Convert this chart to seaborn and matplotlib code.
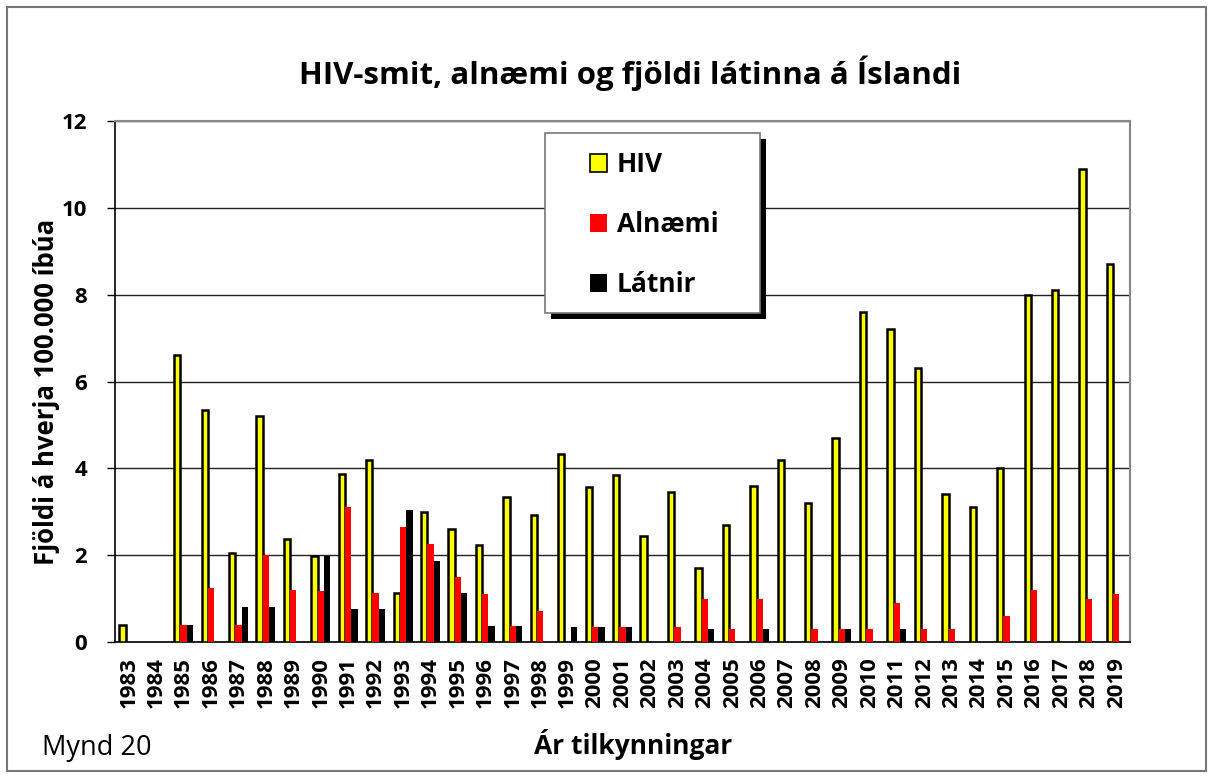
import numpy as np
import pandas as pd
import matplotlib
matplotlib.use("Agg")
import matplotlib.pyplot as plt
import matplotlib.patches as mpatches
import seaborn as sns

# data (per 100.000 inhabitants)
years = [str(y) for y in range(1983, 2020)]
hiv = [0.4, 0, 6.6, 5.35, 2.05, 5.2, 2.37, 1.97, 3.87, 4.2,
       1.13, 3.0, 2.6, 2.23, 3.33, 2.93, 4.33, 3.57, 3.85, 2.43,
       3.45, 1.7, 2.7, 3.6, 4.2, 3.2, 4.7, 7.6, 7.2, 6.3,
       3.4, 3.1, 4.0, 8.0, 8.1, 10.9, 8.7]
alnaemi = [0, 0, 0.4, 1.25, 0.4, 2.0, 1.2, 1.17, 3.1, 1.13,
           2.65, 2.25, 1.5, 1.1, 0.37, 0.72, 0, 0.35, 0.35, 0,
           0.35, 1.0, 0.3, 1.0, 0, 0.3, 0.3, 0.3, 0.9, 0.3,
           0.3, 0, 0.6, 1.2, 0, 1.0, 1.1]
latnir = [0, 0, 0.4, 0, 0.8, 0.8, 0, 1.97, 0.77, 0.75,
          3.03, 1.87, 1.12, 0.37, 0.37, 0, 0.35, 0.35, 0.35, 0,
          0, 0.3, 0, 0.3, 0, 0, 0.3, 0, 0.3, 0,
          0, 0, 0, 0, 0, 0, 0]
series = ["HIV", "Alnæmi", "Látnir"]
colors = ["#ffff00", "#ff0000", "#000000"]

df = pd.DataFrame({
    "year": years * 3,
    "series": [series[0]] * len(years) + [series[1]] * len(years) + [series[2]] * len(years),
    "value": hiv + alnaemi + latnir,
})

sns.set_style("white")
plt.rcParams["font.family"] = ["Open Sans", "DejaVu Sans"]
plt.rcParams["text.color"] = "black"
plt.rcParams["xtick.color"] = "black"
plt.rcParams["ytick.color"] = "black"

fig = plt.figure(figsize=(12.13, 7.78), dpi=100)
ax = fig.add_axes([115 / 1213, 1 - 642 / 778, 1015 / 1213, 521 / 778])

sns.barplot(data=df, x="year", y="value", hue="series", hue_order=series,
            palette=colors, width=0.69, saturation=1, ax=ax, legend=False,
            zorder=3)

# HIV bars have a black outline (skip empty ones)
for p in ax.containers[0].patches:
    if p.get_height() > 0:
        p.set_edgecolor("black")
        p.set_linewidth(1.8)
    else:
        p.set_linewidth(0)
for c in ax.containers[1:]:
    for p in c.patches:
        p.set_linewidth(0)

ax.set_ylim(0, 12)
ax.set_xlim(-0.5, len(years) - 0.5)
ax.yaxis.grid(True, color="#222222", linewidth=1)
ax.set_axisbelow(True)

ax.set_xticks(np.arange(len(years)))
ax.set_xticklabels(years, rotation=90, fontweight="bold", fontsize=16)
ax.set_xticks(np.arange(len(years) + 1) - 0.5, minor=True)
ax.tick_params(axis="x", which="major", length=0, pad=11)
ax.tick_params(axis="x", which="minor", length=6, width=1, color="black", direction="out")
ax.tick_params(axis="y", length=6, width=1, color="black", direction="out", left=True, pad=14)
ax.set_yticks(range(0, 13, 2))
ax.set_yticklabels([str(v) for v in range(0, 13, 2)], fontweight="bold", fontsize=16)

for s in ["left", "bottom"]:
    ax.spines[s].set_color("black")
    ax.spines[s].set_linewidth(1.2)
for s in ["top", "right"]:
    ax.spines[s].set_color("#888888")
    ax.spines[s].set_linewidth(1.5)

ax.set_xlabel("")
ax.set_ylabel("")

fig.text(630 / 1213, 1 - 73 / 778, "HIV-smit, alnæmi og fjöldi látinna á Íslandi",
         ha="center", va="center", fontsize=22.5, fontweight="bold")
fig.text(47 / 1213, 1 - 392 / 778, "Fjöldi á hverja 100.000 íbúa", rotation=90,
         ha="center", va="center", fontsize=18.5, fontweight="bold")
fig.text(633 / 1213, 1 - 745 / 778, "Ár tilkynningar",
         ha="center", va="center", fontsize=19, fontweight="bold")
fig.text(42 / 1213, 1 - 748 / 778, "Mynd 20", ha="left", va="center", fontsize=19.5)

# legend box with a solid black shadow
x0, x1 = (545 - 115) / 1015, (760 - 115) / 1015
y0, y1 = (642 - 313) / 521, (642 - 133) / 521
dx, dy = 6 / 1015, 6 / 521
ax.add_patch(mpatches.Rectangle((x0 + dx, y0 - dy), x1 - x0, y1 - y0, transform=ax.transAxes,
                                facecolor="black", edgecolor="none", zorder=5))
ax.add_patch(mpatches.Rectangle((x0, y0), x1 - x0, y1 - y0, transform=ax.transAxes,
                                facecolor="white", edgecolor="#777777", linewidth=1.2, zorder=6))
handles = [mpatches.Patch(facecolor=colors[0], edgecolor="black", linewidth=1.2),
           mpatches.Patch(facecolor=colors[1], edgecolor="none"),
           mpatches.Patch(facecolor=colors[2], edgecolor="none")]
leg = ax.legend(handles, series, loc="upper left",
                bbox_to_anchor=((577 - 115) / 1015, (642 - 138) / 521),
                frameon=False, borderpad=0, handlelength=0.65, handleheight=0.65,
                handletextpad=0.35, labelspacing=1.25,
                prop={"weight": "bold", "size": 19})
leg.set_zorder(7)

# outer frame of the figure
fig.patches.append(mpatches.Rectangle((7 / 1213, 7 / 778), 1 - 14 / 1213, 1 - 14 / 778,
                                      transform=fig.transFigure, fill=False,
                                      edgecolor="#777777", linewidth=1.5))

fig.savefig("out.png", dpi=100)
